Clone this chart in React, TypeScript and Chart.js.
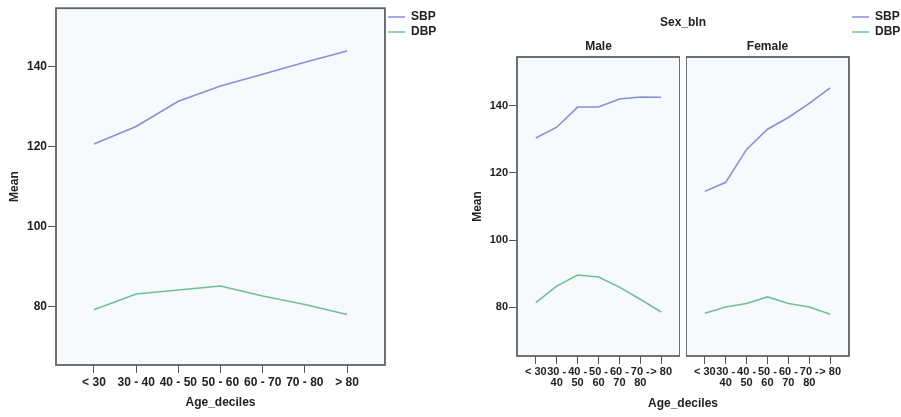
import React, { useEffect, useRef } from "react";
import { Chart, registerables } from "chart.js";

Chart.register(...registerables);

// ---------- data ----------
const categories = ["< 30", "30 - 40", "40 - 50", "50 - 60", "60 - 70", "70 - 80", "> 80"];
const panelTickLabels = [["< 30"], ["30 -", "40"], ["40 -", "50"], ["50 -", "60"], ["60 -", "70"], ["70 -", "80"], ["> 80"]];
const yTicks = [80, 100, 120, 140];
const seriesNames = ["SBP", "DBP"];
const allSBP = [120.6, 125.0, 131.3, 135.1, 138.0, 141.0, 143.8];
const allDBP = [79.3, 83.2, 84.2, 85.2, 82.7, 80.6, 78.1];
const maleSBP = [130.4, 133.6, 139.6, 139.6, 142.0, 142.6, 142.5];
const maleDBP = [81.4, 86.3, 89.6, 89.0, 86.0, 82.4, 78.6];
const femaleSBP = [114.5, 117.2, 127.0, 133.0, 136.5, 140.7, 145.3];
const femaleDBP = [78.2, 80.1, 81.1, 83.1, 81.1, 80.1, 77.9];
const panelTitles = ["Male", "Female"];
const facetTitle = "Sex_bln";
const xTitle = "Age_deciles";
const yTitle = "Mean";

// ---------- style ----------
const FONT = "'Liberation Sans', Arial, sans-serif";
const TEXT = "#222222";
const FRAME = "#626262";
const TICK = "#555555";
const PLOT_BG = "#F6FAFC";
const SBP_COLOR = "#8A8ED8";
const DBP_COLOR = "#6FC194";
const Y_MIN = 65.5;
const Y_MAX = 154.5;
const X_MIN = -0.9;
const X_MAX = 6.9;

Chart.defaults.font.family = FONT;
Chart.defaults.color = TEXT;

const panelFrame = {
  id: "panelFrame",
  beforeDraw(chart: any) {
    const { ctx, chartArea: a } = chart;
    ctx.save();
    ctx.fillStyle = PLOT_BG;
    ctx.fillRect(a.left, a.top, a.right - a.left, a.bottom - a.top);
    ctx.restore();
  },
  afterDraw(chart: any) {
    const { ctx, chartArea: a } = chart;
    ctx.save();
    ctx.strokeStyle = FRAME;
    ctx.lineWidth = 1.8;
    ctx.strokeRect(a.left, a.top, a.right - a.left, a.bottom - a.top);
    ctx.restore();
  },
};

interface Opts {
  sbp: number[];
  dbp: number[];
  xLabels: (string | string[])[];
  tickSize: number;
  tickLineHeight: number;
  xTickPad: number;
  showY: boolean;
  yWidth: number;
  yTitlePad: number;
  xHeight: number;
  xTitleText?: string;
  xTitlePad?: number;
  title?: string;
  titlePad?: { top: number; bottom: number };
  legend: boolean;
  legendBox: number;
  padding: { top: number; right: number; left: number; bottom: number };
}

function makeConfig(o: Opts): any {
  const series = [o.sbp, o.dbp];
  const colors = [SBP_COLOR, DBP_COLOR];
  return {
    type: "line",
    data: {
      datasets: series.map((vals, k) => ({
        label: seriesNames[k],
        data: vals.map((y, i) => ({ x: i, y })),
        borderColor: colors[k],
        backgroundColor: colors[k],
        borderWidth: 1.6,
        pointRadius: 0,
        tension: 0,
        fill: false,
      })),
    },
    options: {
      animation: false,
      responsive: false,
      devicePixelRatio: 1,
      layout: { padding: o.padding },
      plugins: {
        tooltip: { enabled: false },
        title: o.title
          ? {
              display: true,
              text: o.title,
              fullSize: false,
              color: TEXT,
              font: { size: 12, weight: "bold", lineHeight: 1.2 },
              padding: o.titlePad,
            }
          : { display: false },
        legend: o.legend
          ? {
              display: true,
              position: "right",
              align: "start",
              labels: {
                usePointStyle: true,
                pointStyle: "line",
                pointStyleWidth: o.legendBox,
                padding: 3,
                color: TEXT,
                font: { size: 12, weight: "bold" },
              },
            }
          : { display: false },
      },
      scales: {
        x: {
          type: "linear",
          min: X_MIN,
          max: X_MAX,
          afterBuildTicks: (s: any) => {
            s.ticks = o.xLabels.map((_, i) => ({ value: i }));
          },
          afterFit: (s: any) => {
            s.height = o.xHeight;
          },
          grid: { drawOnChartArea: false, drawTicks: true, tickLength: 8, color: TICK, lineWidth: 1 },
          border: { display: false },
          ticks: {
            autoSkip: false,
            maxRotation: 0,
            minRotation: 0,
            padding: o.xTickPad,
            color: TEXT,
            font: { size: o.tickSize, weight: "bold", lineHeight: o.tickLineHeight },
            callback: (v: number) => o.xLabels[v],
          },
          title: o.xTitleText
            ? {
                display: true,
                text: o.xTitleText,
                color: TEXT,
                font: { size: 12, weight: "bold", lineHeight: 1.2 },
                padding: { top: 0, bottom: o.xTitlePad },
              }
            : { display: false },
        },
        y: {
          type: "linear",
          min: Y_MIN,
          max: Y_MAX,
          display: o.showY,
          afterBuildTicks: (s: any) => {
            s.ticks = yTicks.map((v) => ({ value: v }));
          },
          ...(o.showY
            ? {
                afterFit: (s: any) => {
                  s.width = o.yWidth;
                },
              }
            : {}),
          grid: { drawOnChartArea: false, drawTicks: true, tickLength: 8, color: TICK, lineWidth: 1 },
          border: { display: false },
          ticks: {
            padding: 1,
            color: TEXT,
            font: { size: o.tickSize, weight: "bold" },
          },
          title: {
            display: o.showY,
            text: yTitle,
            color: TEXT,
            font: { size: 12, weight: "bold", lineHeight: 1.2 },
            padding: { top: o.yTitlePad, bottom: 0 },
          },
        },
      },
    },
    plugins: [panelFrame],
  };
}

const textStyle: React.CSSProperties = {
  position: "absolute",
  transform: "translate(-50%, -50%)",
  font: `bold 12px ${FONT}`,
  lineHeight: "14px",
  color: TEXT,
  whiteSpace: "nowrap",
};

export default function App() {
  const leftRef = useRef<HTMLCanvasElement>(null);
  const maleRef = useRef<HTMLCanvasElement>(null);
  const femaleRef = useRef<HTMLCanvasElement>(null);

  useEffect(() => {
    const charts: Chart[] = [];
    charts.push(
      new Chart(
        leftRef.current!,
        makeConfig({
          sbp: allSBP,
          dbp: allDBP,
          xLabels: categories,
          tickSize: 12,
          tickLineHeight: 1.2,
          xTickPad: 2,
          showY: true,
          yWidth: 56,
          yTitlePad: 7,
          xHeight: 52,
          xTitleText: xTitle,
          xTitlePad: 7,
          legend: true,
          legendBox: 17,
          padding: { top: 8, right: 3.7, left: 0, bottom: 0 },
        })
      )
    );
    charts.push(
      new Chart(
        maleRef.current!,
        makeConfig({
          sbp: maleSBP,
          dbp: maleDBP,
          xLabels: panelTickLabels,
          tickSize: 11,
          tickLineHeight: 1.0,
          xTickPad: 2,
          showY: true,
          yWidth: 67,
          yTitlePad: 20,
          xHeight: 61,
          title: panelTitles[0],
          titlePad: { top: 31.8, bottom: 2.8 },
          legend: false,
          legendBox: 17,
          padding: { top: 8, right: 0, left: 0, bottom: 0 },
        })
      )
    );
    charts.push(
      new Chart(
        femaleRef.current!,
        makeConfig({
          sbp: femaleSBP,
          dbp: femaleDBP,
          xLabels: panelTickLabels,
          tickSize: 11,
          tickLineHeight: 1.0,
          xTickPad: 2,
          showY: false,
          yWidth: 0,
          yTitlePad: 0,
          xHeight: 61,
          title: panelTitles[1],
          titlePad: { top: 31.8, bottom: 2.8 },
          legend: true,
          legendBox: 17,
          padding: { top: 8, right: 0.7, left: 0, bottom: 0 },
        })
      )
    );
    return () => charts.forEach((c) => c.destroy());
  }, []);

  return (
    <div style={{ position: "fixed", left: 0, top: 0, width: 901, height: 417, background: "#ffffff", overflow: "hidden" }}>
      <canvas ref={leftRef} width={450} height={417} style={{ position: "absolute", left: 0, top: 0, width: 450, height: 417 }} />
      <canvas ref={maleRef} width={230} height={417} style={{ position: "absolute", left: 450, top: 0, width: 230, height: 417 }} />
      <canvas ref={femaleRef} width={225} height={417} style={{ position: "absolute", left: 686, top: 0, width: 225, height: 417 }} />
      <div style={{ ...textStyle, left: 683, top: 22 }}>{facetTitle}</div>
      <div style={{ ...textStyle, left: 683, top: 403 }}>{xTitle}</div>
    </div>
  );
}
